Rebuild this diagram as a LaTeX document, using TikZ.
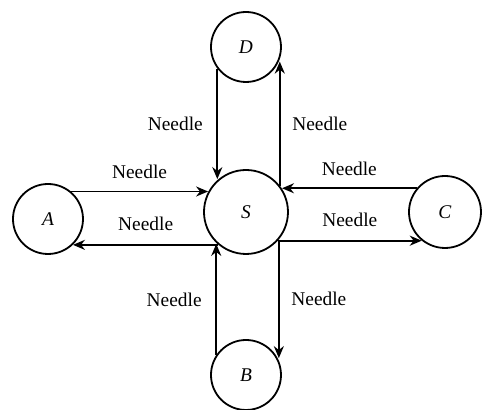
\documentclass[tikz,border=0pt]{standalone}
\usepackage{fontspec}
\setmainfont{Liberation Serif}
\usetikzlibrary{arrows.meta}

\begin{document}
\begin{tikzpicture}[x=1pt, y=1pt, auto,
    every node/.style={font=\fontsize{9.7}{11.6}\selectfont},
    state/.style={draw, circle, line width=0.9pt, minimum size=35pt, inner sep=0pt},
    link/.style={-{Stealth[length=6pt, width=5pt]}, line width=0.9pt}]
    \useasboundingbox (-123,-99) rectangle (121.5,106);
    \node (S) [state, minimum size=42pt] {\textit{S}};
    \node (A) [state, left of=S, node distance=99pt, yshift=-3.5pt] {\textit{A}};
    \node (C) [state, right of=S, node distance=99.5pt, minimum size=36pt] {\textit{C}};
    \node (D) [state, above of=S, node distance=82.5pt] {\textit{D}};
    \node (B) [state, below of=S, node distance=81.5pt] {\textit{B}};

    \draw[link] (A.50) -- (A.50 -| S.152) node[midway, above=2.5pt] {Needle};
    \draw[link] (S.230) -- (S.230 -| A.314) node[midway, above=3.5pt] {Needle};
    \draw[link] (C.140) -- (C.140 -| S.33) node[midway, above=2.5pt] {Needle};
    \draw[link] (S.318) -- (S.318 -| C.231) node[midway, above=3pt] {Needle};
    \draw[link] (D.217) -- (D.217 |- S.130) node[midway, left=3.5pt] {Needle};
    \draw[link] (S.38) -- (S.38 |- D.336) node[midway, right=2.5pt] {Needle};
    \draw[link] (B.146) -- (B.146 |- S.228) node[midway, left=3.5pt] {Needle};
    \draw[link] (S.320) -- (S.320 |- B.28) node[midway, right=2.5pt] {Needle};
\end{tikzpicture}
\end{document}
